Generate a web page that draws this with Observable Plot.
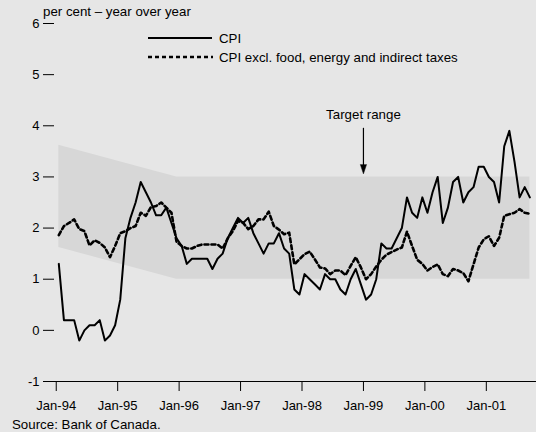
<!DOCTYPE html>
<html><head><meta charset="utf-8">
<script src="https://cdn.jsdelivr.net/npm/d3@7"></script>
<script src="https://cdn.jsdelivr.net/npm/@observablehq/plot@0.6"></script>
<style>
html,body{margin:0;padding:0;background:#e6e6e6;}
#wrap{position:relative;width:536px;height:432px;font-family:"Liberation Sans",Arial,Helvetica,sans-serif;font-size:13px;color:#000;}
#wrap svg{display:block;}
#overlay{position:absolute;left:0;top:0;pointer-events:none;}
</style></head><body><div id="wrap"></div>
<script>
// Monthly, Jan 1994 – Sep 2001 (year-over-year % change)
const cpi = [
  1.3,0.2,0.2,0.2,-0.2,0.0,0.1,0.1,0.2,-0.2,-0.1,0.1,
  0.6,1.8,2.2,2.5,2.9,2.7,2.5,2.25,2.25,2.4,2.1,1.8,
  1.65,1.3,1.4,1.4,1.4,1.4,1.2,1.4,1.5,1.8,2.0,2.2,
  2.1,2.2,1.9,1.7,1.5,1.7,1.7,1.9,1.6,1.5,0.8,0.7,
  1.1,1.0,0.9,0.8,1.1,1.0,1.0,0.8,0.7,1.0,1.2,0.9,
  0.6,0.7,1.0,1.7,1.6,1.6,1.8,2.0,2.6,2.3,2.2,2.6,
  2.3,2.7,3.0,2.1,2.4,2.9,3.0,2.5,2.7,2.8,3.2,3.2,
  3.0,2.9,2.5,3.6,3.9,3.3,2.6,2.8,2.6
];
const core = [
  1.86,2.04,2.1,2.17,1.98,1.94,1.66,1.76,1.71,1.62,1.43,1.65,
  1.9,1.94,2.0,2.04,2.3,2.24,2.41,2.43,2.5,2.4,2.3,1.73,
  1.65,1.6,1.6,1.65,1.68,1.68,1.68,1.68,1.6,1.8,1.94,2.14,
  2.1,1.98,2.04,2.17,2.17,2.32,2.04,1.97,1.88,1.91,1.29,1.39,
  1.49,1.54,1.39,1.23,1.21,1.1,1.17,1.17,1.08,1.26,1.43,1.23,
  1.0,1.1,1.25,1.38,1.48,1.53,1.58,1.62,1.93,1.65,1.38,1.3,
  1.17,1.24,1.29,1.1,1.06,1.2,1.17,1.12,0.96,1.29,1.62,1.78,
  1.84,1.65,1.81,2.24,2.27,2.3,2.37,2.3,2.28
];
const xTickLabels = ["Jan-94","Jan-95","Jan-96","Jan-97","Jan-98","Jan-99","Jan-00","Jan-01"];
const yTicks = [-1,0,1,2,3,4,5,6];
// Target range band (month index, low, high)
const bandMonth = [0, 23, 92];
const bandLow = [1.62, 1, 1];
const bandHigh = [3.62, 3, 3];
const targetLabel = "Target range";
const targetMonth = 59.5;      // Jan-99
const targetTextY = 4.21;
const arrowTop = 3.96;
const arrowTip = 3.06;
const seriesNames = ["CPI", "CPI excl. food, energy and indirect taxes"];
const yLabel = "per cent \u2013 year over year";
const source = "Source: Bank of Canada.";

const data = cpi.map((v, i) => ({m: i, cpi: v, core: core[i]}));
const band = bandMonth.map((m, i) => ({m, lo: bandLow[i], hi: bandHigh[i]}));
const xTickPos = xTickLabels.map((_, k) => 12 * k - 0.5);

const arrowHead = {
  draw(ctx, l, r) {
    ctx.moveTo(-r, 0);
    ctx.lineTo(0, -l);
    ctx.lineTo(r, 0);
    ctx.closePath();
  }
};

const font = '"Liberation Sans", Arial, Helvetica, sans-serif';
const chart = Plot.plot({
  width: 536, height: 432,
  marginLeft: 54, marginRight: 0, marginTop: 23, marginBottom: 51,
  style: {background: "transparent", fontFamily: font, fontSize: "13px", color: "#000", overflow: "visible"},
  x: {domain: [-0.84, 93.3], ticks: xTickPos, tickFormat: d => xTickLabels[Math.round((d + 0.5) / 12)], tickSize: 10, tickPadding: 9, label: null},
  y: {domain: [-1, 6], ticks: yTicks, tickFormat: d => String(d), tickSize: 11, tickPadding: 4, label: null},
  marks: [
    Plot.areaY(band, {x: "m", y1: "lo", y2: "hi", fill: "#d7d7d7"}),
    Plot.ruleY([-1], {stroke: "#000", strokeWidth: 1, insetLeft: -10}),
    Plot.line(data, {x: "m", y: "core", stroke: "#000", strokeWidth: 2.6, strokeDasharray: "4,3"}),
    Plot.line(data, {x: "m", y: "cpi", stroke: "#000", strokeWidth: 2}),
    Plot.text([targetLabel], {x: targetMonth, y: targetTextY, text: d => d, fill: "#000", fontSize: 13.3}),
    Plot.link([0], {x1: targetMonth, x2: targetMonth, y1: arrowTop, y2: arrowTip + 0.14, stroke: "#000", strokeWidth: 1.2}),
    Plot.vector([0], {x: targetMonth, y: arrowTip, length: 9, r: 3, rotate: 180, anchor: "end", shape: arrowHead, fill: "#000", stroke: "#000", strokeWidth: 0.5})
  ]
});

const wrap = document.getElementById("wrap");
wrap.appendChild(chart);

const ns = "http://www.w3.org/2000/svg";
const ov = document.createElementNS(ns, "svg");
ov.setAttribute("id", "overlay");
ov.setAttribute("width", 536);
ov.setAttribute("height", 432);
ov.setAttribute("font-family", font);
ov.setAttribute("font-size", "13.3");
function addText(str, x, y) {
  const t = document.createElementNS(ns, "text");
  t.setAttribute("x", x); t.setAttribute("y", y);
  t.textContent = str;
  ov.appendChild(t);
}
function addLine(x1, x2, y, dash, w) {
  const l = document.createElementNS(ns, "line");
  l.setAttribute("x1", x1); l.setAttribute("x2", x2);
  l.setAttribute("y1", y); l.setAttribute("y2", y);
  l.setAttribute("stroke", "#000"); l.setAttribute("stroke-width", w);
  if (dash) l.setAttribute("stroke-dasharray", dash);
  ov.appendChild(l);
}
addText(yLabel, 43, 15.5);
addLine(148, 212, 38, null, 2);
addText(seriesNames[0], 219, 42.7);
addLine(148, 213, 57, "4,3", 2.6);
addText(seriesNames[1], 219, 61.7);
addText(source, 12, 428.5);
wrap.appendChild(ov);
</script>
</body></html>
